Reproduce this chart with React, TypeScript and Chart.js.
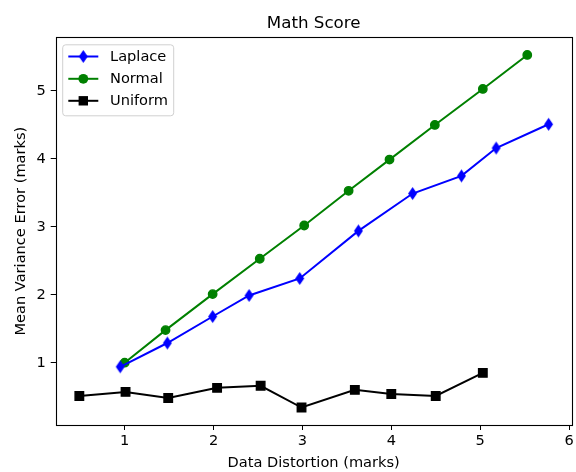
import React, { useEffect, useRef } from "react";
import { Chart, registerables } from "chart.js";

Chart.register(...registerables);

const chartTitle = "Math Score";
const xAxisTitle = "Data Distortion (marks)";
const yAxisTitle = "Mean Variance Error (marks)";

const xTicks = [1, 2, 3, 4, 5, 6];
const yTicks = [1, 2, 3, 4, 5];

const laplaceX = [0.95, 1.48, 1.99, 2.4, 2.97, 3.63, 4.24, 4.79, 5.18, 5.77];
const laplaceY = [0.94, 1.29, 1.68, 1.99, 2.24, 2.94, 3.49, 3.75, 4.16, 4.51];

const normalX = [1.0, 1.46, 1.99, 2.52, 3.02, 3.52, 3.98, 4.49, 5.03, 5.53];
const normalY = [1.0, 1.48, 2.01, 2.53, 3.02, 3.53, 3.99, 4.5, 5.03, 5.53];

const uniformX = [0.49, 1.01, 1.49, 2.04, 2.53, 2.99, 3.59, 4.0, 4.5, 5.03];
const uniformY = [0.51, 0.57, 0.48, 0.63, 0.66, 0.34, 0.6, 0.54, 0.51, 0.85];

const seriesNames = ["Laplace", "Normal", "Uniform"];
const seriesColors = ["#0000ff", "#008000", "#000000"];

const FONT = "'DejaVu Sans', sans-serif";
const LABEL_SIZE = 14.6;

function makeDiamond(color: string, w: number, h: number) {
  const c = document.createElement("canvas");
  const pad = 1;
  c.width = Math.ceil(w + pad * 2);
  c.height = Math.ceil(h + pad * 2);
  const ctx = c.getContext("2d")!;
  const cx = c.width / 2;
  const cy = c.height / 2;
  ctx.beginPath();
  ctx.moveTo(cx, cy - h / 2);
  ctx.lineTo(cx + w / 2, cy);
  ctx.lineTo(cx, cy + h / 2);
  ctx.lineTo(cx - w / 2, cy);
  ctx.closePath();
  ctx.fillStyle = color;
  ctx.fill();
  return c;
}

function zip(xs: number[], ys: number[]) {
  return xs.map((x, i) => ({ x, y: ys[i] }));
}

export default function App() {
  const ref = useRef<HTMLCanvasElement | null>(null);

  useEffect(() => {
    if (!ref.current) return;
    const diamond = makeDiamond(seriesColors[0], 9, 13);

    const drawMarker = (ctx: CanvasRenderingContext2D, i: number, x: number, y: number) => {
      ctx.save();
      ctx.fillStyle = seriesColors[i];
      if (i === 0) {
        ctx.drawImage(diamond, x - diamond.width / 2, y - diamond.height / 2);
      } else if (i === 1) {
        ctx.beginPath();
        ctx.arc(x, y, 4.9, 0, Math.PI * 2);
        ctx.fill();
      } else {
        ctx.fillRect(x - 4.7, y - 4.7, 9.4, 9.4);
      }
      ctx.restore();
    };

    const decor = {
      id: "decor",
      afterDatasetsDraw(chart: any) {
        const { ctx, chartArea: a } = chart;
        ctx.save();
        ctx.strokeStyle = "#000";
        ctx.lineWidth = 1.1;
        ctx.strokeRect(Math.round(a.left) + 0.5, Math.round(a.top) + 0.5, Math.round(a.right - a.left), Math.round(a.bottom - a.top));
        ctx.fillStyle = "#000";
        ctx.font = `16.7px ${FONT}`;
        ctx.textAlign = "center";
        ctx.textBaseline = "alphabetic";
        ctx.fillText(chartTitle, (a.left + a.right) / 2, 28);
        const bx = a.left + 7, by = a.top + 7.5, bw = 111, bh = 71;
        ctx.beginPath();
        const r = 3;
        ctx.moveTo(bx + r, by);
        ctx.lineTo(bx + bw - r, by);
        ctx.quadraticCurveTo(bx + bw, by, bx + bw, by + r);
        ctx.lineTo(bx + bw, by + bh - r);
        ctx.quadraticCurveTo(bx + bw, by + bh, bx + bw - r, by + bh);
        ctx.lineTo(bx + r, by + bh);
        ctx.quadraticCurveTo(bx, by + bh, bx, by + bh - r);
        ctx.lineTo(bx, by + r);
        ctx.quadraticCurveTo(bx, by, bx + r, by);
        ctx.closePath();
        ctx.fillStyle = "rgba(255,255,255,0.8)";
        ctx.fill();
        ctx.strokeStyle = "#d0d0d0";
        ctx.lineWidth = 1;
        ctx.stroke();
        const rows = [by + 11.7, by + 34, by + 56];
        seriesNames.forEach((name, i) => {
          const y = rows[i];
          ctx.strokeStyle = seriesColors[i];
          ctx.lineWidth = 2;
          ctx.beginPath();
          ctx.moveTo(bx + 5.6, y);
          ctx.lineTo(bx + 35.6, y);
          ctx.stroke();
          drawMarker(ctx, i, bx + 20.6, y);
          ctx.fillStyle = "#000";
          ctx.font = `${LABEL_SIZE}px ${FONT}`;
          ctx.textAlign = "left";
          ctx.textBaseline = "middle";
          ctx.fillText(name, bx + 47.3, y + 0.5);
        });
        ctx.restore();
      },
    };

    const tickCfg = (vals: number[]) => (scale: any) => {
      scale.ticks = vals.map((v) => ({ value: v }));
    };

    const chart = new Chart(ref.current, {
      type: "line",
      data: {
        datasets: [
          {
            label: seriesNames[0],
            data: zip(laplaceX, laplaceY),
            borderColor: seriesColors[0],
            backgroundColor: seriesColors[0],
            borderWidth: 2,
            pointStyle: diamond as any,
            pointRadius: 6,
            tension: 0,
            clip: false as any,
          },
          {
            label: seriesNames[1],
            data: zip(normalX, normalY),
            borderColor: seriesColors[1],
            backgroundColor: seriesColors[1],
            borderWidth: 2,
            pointStyle: "circle",
            pointRadius: 4.2,
            pointBorderWidth: 1.4,
            tension: 0,
            clip: false as any,
          },
          {
            label: seriesNames[2],
            data: zip(uniformX, uniformY),
            borderColor: seriesColors[2],
            backgroundColor: seriesColors[2],
            borderWidth: 2,
            pointStyle: "rect",
            pointRadius: 6,
            pointBorderWidth: 1.4,
            tension: 0,
            clip: false as any,
          },
        ],
      },
      options: {
        animation: false,
        responsive: false,
        layout: { autoPadding: false, padding: { left: 0, right: 4.3, top: 37.3, bottom: 0 } },
        plugins: {
          legend: { display: false },
          title: { display: false },
          tooltip: { enabled: false },
        },
        scales: {
          x: {
            type: "linear",
            min: 0.224,
            max: 6.03,
            afterBuildTicks: tickCfg(xTicks),
            afterFit: (s: any) => {
              s.height = 47;
              s.paddingLeft = 0;
              s.paddingRight = 0;
            },
            border: { display: false },
            grid: { drawOnChartArea: false, drawTicks: true, tickLength: 5, color: "#000", lineWidth: 1 },
            ticks: { color: "#000", font: { family: FONT, size: LABEL_SIZE }, padding: 2.5, maxRotation: 0 },
            title: { display: true, text: xAxisTitle, color: "#000", font: { family: FONT, size: LABEL_SIZE }, padding: { top: 0, bottom: 0 } },
          },
          y: {
            type: "linear",
            min: 0.083,
            max: 5.79,
            afterBuildTicks: tickCfg(yTicks),
            afterFit: (s: any) => {
              s.width = 55.7;
              s.paddingTop = 0;
              s.paddingBottom = 0;
            },
            border: { display: false },
            grid: { drawOnChartArea: false, drawTicks: true, tickLength: 5, color: "#000", lineWidth: 1 },
            ticks: { color: "#000", font: { family: FONT, size: LABEL_SIZE }, padding: 5 },
            title: { display: true, text: yAxisTitle, color: "#000", font: { family: FONT, size: LABEL_SIZE }, padding: { top: 12.3, bottom: 0 } },
          },
        },
      },
      plugins: [decor],
    });
    return () => chart.destroy();
  }, []);

  return (
    <div style={{ position: "absolute", left: 0, top: 0, width: 576, height: 472, background: "#fff" }}>
      <canvas ref={ref} width={576} height={472} style={{ display: "block" }} />
    </div>
  );
}
